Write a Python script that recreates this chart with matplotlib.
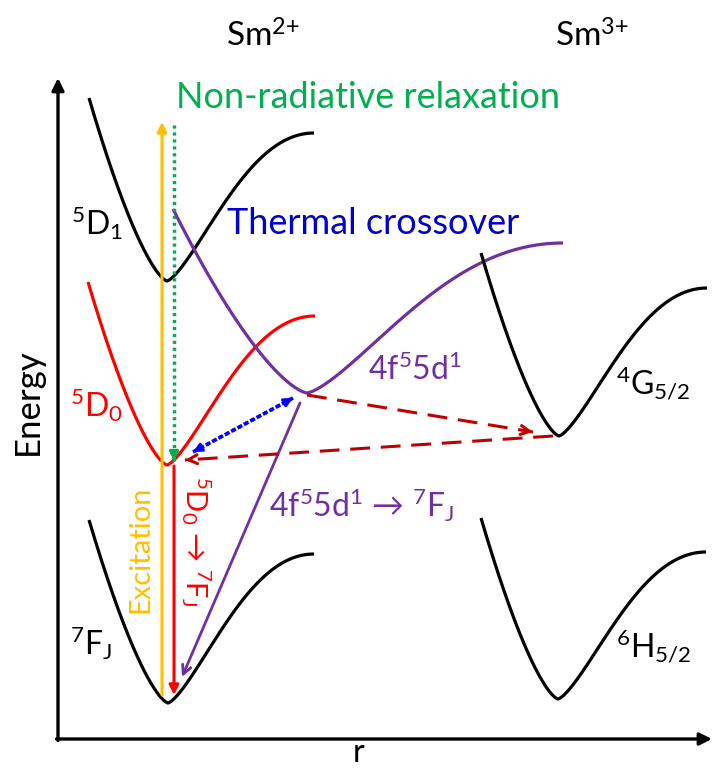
import numpy as np
import matplotlib
matplotlib.use("Agg")
import matplotlib.pyplot as plt

plt.rcParams["font.family"] = ["Lato", "DejaVu Sans"]
plt.rcParams["mathtext.fontset"] = "custom"
plt.rcParams["mathtext.rm"] = "Lato"
plt.rcParams["mathtext.it"] = "Lato"
plt.rcParams["mathtext.bf"] = "Lato:bold"

# Potential-energy wells: left end, minimum and right plateau (r, E)
state_names = ["5D1", "5D0", "7FJ", "4f55d1", "4G5/2", "6H5/2"]
state_colors = ["black", "#FF0000", "black", "#7030A0", "black", "black"]
r_left = [89, 88, 89, 173, 481, 481]
E_left = [671, 487, 249, 560, 516, 251]
r_min = [167, 167, 168, 307, 559, 558]
E_min = [488, 304, 66, 376, 333, 70]
r_right = [314, 315, 314, 563, 707, 706]
E_plateau = [636, 453, 215, 526, 481, 217]


def well(xl, el, x0, e0, xr, er, n=300):
    xa = np.linspace(xl, x0, n)
    ta = (x0 - xa) / (x0 - xl)
    ea = e0 + (el - e0) * ta ** 1.45
    xb = np.linspace(x0, xr, n)
    sb = ((xb - x0) / (xr - x0)) ** 0.7
    eb = e0 + (er - e0) * (1 - np.cos(np.pi * sb)) / 2
    return np.concatenate([xa, xb]), np.concatenate([ea, eb])


fig = plt.figure(figsize=(7.12, 7.69), dpi=100)
ax = fig.add_axes([0, 0, 1, 1])
ax.set_xlim(0, 712)
ax.set_ylim(0, 769)
ax.axis("off")

# Axes drawn as arrows
ax.annotate("", xy=(58, 691), xytext=(58, 28.5),
            arrowprops=dict(arrowstyle="-|>", lw=2.4, color="black",
                            mutation_scale=18, shrinkA=0, shrinkB=0))
ax.annotate("", xy=(712, 30), xytext=(56.5, 30),
            arrowprops=dict(arrowstyle="-|>", lw=2.4, color="black",
                            mutation_scale=18, shrinkA=0, shrinkB=0))

for i in range(len(state_names)):
    x, e = well(r_left[i], E_left[i], r_min[i], E_min[i], r_right[i], E_plateau[i])
    ax.plot(x, e, color=state_colors[i], lw=2.3, solid_capstyle="butt", zorder=3)


def arrow(p0, p1, color, style="-|>", lw=2.0, ls="-", ms=14, z=4):
    if ls == "-":
        ax.annotate("", xy=p1, xytext=p0,
                    arrowprops=dict(arrowstyle=style, lw=lw, color=color,
                                    mutation_scale=ms, shrinkA=0, shrinkB=0),
                    zorder=z)
    else:
        ax.plot([p0[0], p1[0]], [p0[1], p1[1]], color=color, lw=lw, ls=ls, zorder=z)
        v = np.array(p1, float) - np.array(p0, float)
        v /= np.hypot(*v)
        back = np.array(p1) - v * 6
        ax.annotate("", xy=p1, xytext=tuple(back),
                    arrowprops=dict(arrowstyle=style, lw=min(lw, 2.2), color=color,
                                    mutation_scale=ms, shrinkA=0, shrinkB=0),
                    zorder=z)


# Excitation and relaxation transitions
arrow((162, 74), (162, 647), "#FFC000", lw=2.2, ms=14)
arrow((174, 644), (174, 308), "#00B050", lw=2.5, ls=(0, (0.9, 1.1)), ms=13)
arrow((174, 303), (174, 74), "#FF0000", lw=2.2, ms=14)
arrow((300, 366), (182, 92), "#7030A0", style="->", lw=2.0, ms=16)
arrow((193, 317), (293, 371), "#0000FF", lw=2.6, ls=(0, (0.9, 1.1)), ms=12)
arrow((293, 371), (193, 317), "#0000FF", lw=2.6, ls=(0, (0.9, 1.1)), ms=12)
arrow((307, 374), (533, 337), "#C00000", style="->", lw=2.2, ls=(0, (6.5, 3.5)), ms=16)
arrow((553, 333), (185, 309), "#C00000", style="->", lw=2.2, ls=(0, (6.5, 3.5)), ms=16)

# Labels
big = 24
mid = 26
small = 23
rot = 21
ax.text(263, 733, r"Sm$^{2{+}}$", fontsize=big, ha="center", va="center")
ax.text(592, 733, r"Sm$^{3{+}}$", fontsize=big, ha="center", va="center")
ax.text(368, 671, "Non-radiative relaxation", fontsize=mid, color="#00B050",
        ha="center", va="center")
ax.text(373, 546, "Thermal crossover", fontsize=mid, color="#0000CC",
        ha="center", va="center")
ax.text(97, 546, r"$^5$D$_1$", fontsize=small, ha="center", va="center")
ax.text(97, 364, r"$^5$D$_0$", fontsize=small, color="#FF0000", ha="center", va="center")
ax.text(91, 126, r"$^7$F$_J$", fontsize=small, ha="center", va="center")
ax.text(415, 399, r"4f$^5$5d$^1$", fontsize=small, color="#7030A0", ha="center", va="center")
ax.text(653, 386, r"$^4$G$_{5/2}$", fontsize=small, ha="center", va="center")
ax.text(654, 123, r"$^6$H$_{5/2}$", fontsize=small, ha="center", va="center")
ax.text(361, 264, r"4f$^5$5d$^1$ → $^7$F$_J$", fontsize=small, color="#7030A0",
        ha="center", va="center")
ax.text(140, 220, "Excitation", fontsize=rot, color="#FFC000", rotation=90,
        ha="center", va="center")
ax.text(196, 228, r"$^5$D$_0$ → $^7$F$_J$", fontsize=rot, color="#FF0000",
        rotation=-90, ha="center", va="center")
ax.text(28, 367, "Energy", fontsize=25, rotation=90, ha="center", va="center")
ax.text(359, 0.5, "r", fontsize=23, ha="center", va="bottom")

fig.savefig("out.png", dpi=100)
